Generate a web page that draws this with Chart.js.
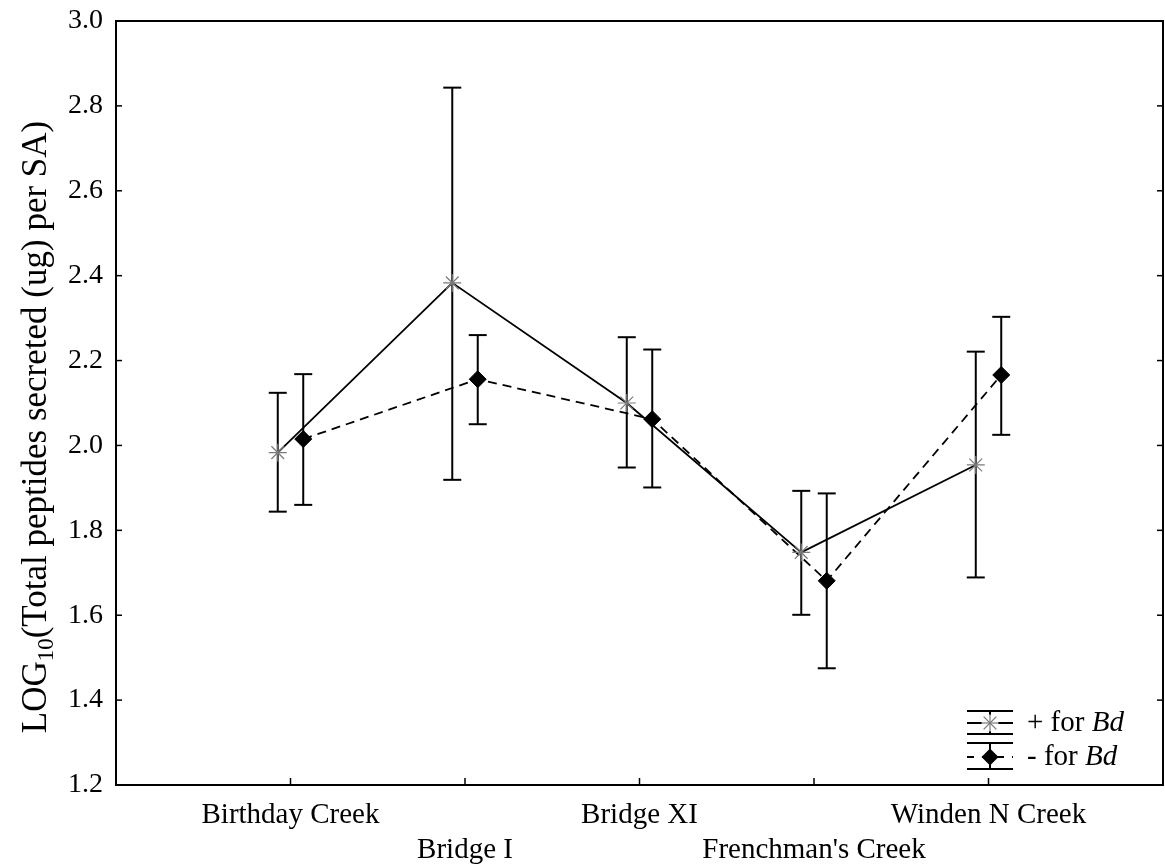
<!DOCTYPE html>
<html>
<head>
<meta charset="utf-8">
<script src="https://cdn.jsdelivr.net/npm/chart.js@4"></script>
<style>
  html, body { margin: 0; padding: 0; background: #fff; }
  #wrap { width: 1165px; height: 866px; }
</style>
</head>
<body>
<div id="wrap"><canvas id="line-chart" width="1165" height="866"></canvas></div>
<script>
// sites along the x axis
var sites = ["Birthday Creek", "Bridge I", "Bridge XI", "Frenchman's Creek", "Winden N Creek"];

// + for Bd : mean and error bar ends
var posMean = [1.983, 2.383, 2.100, 1.748, 1.954];
var posLow = [1.844, 1.919, 1.948, 1.601, 1.689];
var posHigh = [2.124, 2.843, 2.255, 1.893, 2.221];

// - for Bd : mean and error bar ends
var negMean = [2.015, 2.156, 2.062, 1.681, 2.166];
var negLow = [1.860, 2.050, 1.901, 1.475, 2.025];
var negHigh = [2.168, 2.260, 2.226, 1.887, 2.303];

var yTicks = [1.2, 1.4, 1.6, 1.8, 2.0, 2.2, 2.4, 2.6, 2.8, 3.0];

var FONT = "'Liberation Serif', 'Times New Roman', serif";
var SHIFT = 0.073; // side-by-side offset of the two groups

function points(means, dx) {
    return means.map(function (v, i) {
        return { x: i + dx, y: v };
    });
}

function line(ctx, x1, y1, x2, y2) {
    ctx.beginPath();
    ctx.moveTo(x1, y1);
    ctx.lineTo(x2, y2);
    ctx.stroke();
}

function drawStar(ctx, x, y, r) {
    ctx.save();
    ctx.strokeStyle = "#7a7a7a";
    ctx.lineWidth = 1.2;
    for (var k = 0; k < 4; k++) {
        var a = k * Math.PI / 4;
        line(ctx, x - Math.cos(a) * r, y - Math.sin(a) * r, x + Math.cos(a) * r, y + Math.sin(a) * r);
    }
    ctx.restore();
}

function drawDiamond(ctx, x, y, r) {
    ctx.save();
    ctx.fillStyle = "#000";
    ctx.beginPath();
    ctx.moveTo(x, y - r);
    ctx.lineTo(x + r, y);
    ctx.lineTo(x, y + r);
    ctx.lineTo(x - r, y);
    ctx.closePath();
    ctx.fill();
    ctx.restore();
}

// no extra room for the end labels, the frame is fixed
function noPad(axis) {
    axis.paddingTop = 0;
    axis.paddingBottom = 0;
    axis.paddingLeft = 0;
    axis.paddingRight = 0;
}

var errorBars = {
    id: "errorBars",
    beforeDatasetsDraw: function (chart) {
        var ctx = chart.ctx;
        var yScale = chart.scales.y;
        ctx.save();
        ctx.strokeStyle = "#000";
        ctx.lineWidth = 2;
        chart.data.datasets.forEach(function (ds, di) {
            var meta = chart.getDatasetMeta(di);
            meta.data.forEach(function (pt, j) {
                var yl = yScale.getPixelForValue(ds.errLow[j]);
                var yh = yScale.getPixelForValue(ds.errHigh[j]);
                line(ctx, pt.x, yl, pt.x, yh);
                line(ctx, pt.x - 9, yl, pt.x + 9, yl);
                line(ctx, pt.x - 9, yh, pt.x + 9, yh);
            });
        });
        ctx.restore();
    }
};

var frame = {
    id: "frame",
    afterDraw: function (chart) {
        var ctx = chart.ctx;
        var a = chart.chartArea;
        var xs = chart.scales.x, ys = chart.scales.y;
        ctx.save();
        ctx.strokeStyle = "#000";
        ctx.lineWidth = 2;
        // top and right edges
        line(ctx, a.left - 1, a.top, a.right + 1, a.top);
        line(ctx, a.right, a.top, a.right, a.bottom);
        // inward ticks
        ctx.lineWidth = 1.5;
        yTicks.forEach(function (v) {
            var py = ys.getPixelForValue(v);
            line(ctx, a.left, py, a.left + 6, py);
            line(ctx, a.right, py, a.right - 6, py);
        });
        sites.forEach(function (s, i) {
            var px = xs.getPixelForValue(i);
            line(ctx, px, a.bottom, px, a.bottom - 7);
        });

        // y axis title with subscript
        ctx.fillStyle = "#000";
        ctx.textBaseline = "alphabetic";
        ctx.translate(35, 427);
        ctx.rotate(-Math.PI / 2);
        var big = "35px " + FONT, small = "23px " + FONT;
        var p1 = "LOG", p2 = "10", p3 = "(Total peptides secreted (ug) per SA)";
        ctx.font = big;
        var w1 = ctx.measureText(p1).width, w3 = ctx.measureText(p3).width;
        ctx.font = small;
        var w2 = ctx.measureText(p2).width;
        var x0 = -(w1 + w2 + w3) / 2;
        ctx.font = big;
        ctx.fillText(p1, x0, 11);
        ctx.font = small;
        ctx.fillText(p2, x0 + w1, 18);
        ctx.font = big;
        ctx.fillText(p3, x0 + w1 + w2, 11);
        ctx.restore();

        // legend
        ctx.save();
        ctx.strokeStyle = "#000";
        var cx = 990;
        var rows = [
            { y: 723, top: 711, bot: 734, dash: [], mark: "star", sign: "+ for " },
            { y: 757, top: 743, bot: 769, dash: [7, 8], mark: "diamond", sign: "- for " }
        ];
        rows.forEach(function (r) {
            ctx.lineWidth = 2;
            ctx.setLineDash([]);
            line(ctx, cx - 23, r.top, cx + 23, r.top);
            line(ctx, cx - 23, r.bot, cx + 23, r.bot);
            line(ctx, cx, r.top, cx, r.bot);
            ctx.lineWidth = 1.8;
            ctx.setLineDash(r.dash);
            line(ctx, cx - 23, r.y, cx + 23, r.y);
            ctx.setLineDash([]);
            if (r.mark === "star") {
                ctx.fillStyle = "#fff";
                ctx.fillRect(cx - 8, r.y - 8, 16, 16);
                drawStar(ctx, cx, r.y, 9);
            } else {
                drawDiamond(ctx, cx, r.y, 8.5);
            }
            ctx.fillStyle = "#000";
            ctx.textBaseline = "middle";
            ctx.font = "29px " + FONT;
            ctx.fillText(r.sign, 1027, r.y);
            var w = ctx.measureText(r.sign).width;
            ctx.font = "italic 29px " + FONT;
            ctx.fillText("Bd", 1027 + w, r.y);
        });
        ctx.restore();
    }
};

var chart = new Chart(document.getElementById("line-chart").getContext("2d"), {
    type: "scatter",
    data: {
        datasets: [
            {
                label: "+ for Bd",
                data: points(posMean, -SHIFT),
                errLow: posLow,
                errHigh: posHigh,
                showLine: true,
                borderColor: "#000",
                borderWidth: 1.8,
                pointStyle: "star",
                pointRadius: 9,
                pointBorderColor: "#7a7a7a",
                pointBorderWidth: 1.2,
                pointBackgroundColor: "#fff"
            },
            {
                label: "- for Bd",
                data: points(negMean, SHIFT),
                errLow: negLow,
                errHigh: negHigh,
                showLine: true,
                borderColor: "#000",
                borderWidth: 1.8,
                borderDash: [9, 6],
                pointStyle: "rectRot",
                pointRadius: 8.5,
                pointBorderColor: "#000",
                pointBorderWidth: 1,
                pointBackgroundColor: "#000"
            }
        ]
    },
    options: {
        responsive: false,
        animation: false,
        layout: { autoPadding: false, padding: { top: 21, right: 2, left: 0, bottom: 0 } },
        plugins: {
            legend: { display: false },
            tooltip: { enabled: false }
        },
        scales: {
            x: {
                type: "linear",
                min: -1,
                max: 5,
                afterBuildTicks: function (axis) {
                    axis.ticks = [-1, 0, 1, 2, 3, 4, 5].map(function (v) { return { value: v }; });
                },
                afterFit: function (axis) { axis.height = 81; noPad(axis); },
                grid: { display: false, drawTicks: false },
                border: { display: true, color: "#000", width: 2 },
                ticks: {
                    padding: 13,
                    maxRotation: 0,
                    autoSkip: false,
                    color: "#000",
                    font: { family: FONT, size: 29, lineHeight: 1.2 },
                    callback: function (value) {
                        var i = Math.round(value);
                        if (i < 0 || i >= sites.length) return "";
                        return i % 2 ? ["", sites[i]] : sites[i];
                    }
                }
            },
            y: {
                min: 1.2,
                max: 3.0,
                afterBuildTicks: function (axis) {
                    axis.ticks = yTicks.map(function (v) { return { value: v }; });
                },
                afterFit: function (axis) { axis.width = 116; noPad(axis); },
                grid: { display: false, drawTicks: false },
                border: { display: true, color: "#000", width: 2 },
                ticks: {
                    padding: 13,
                    color: "#000",
                    font: { family: FONT, size: 28 },
                    callback: function (value) { return value.toFixed(1); }
                }
            }
        }
    },
    plugins: [errorBars, frame]
});
</script>
</body>
</html>
